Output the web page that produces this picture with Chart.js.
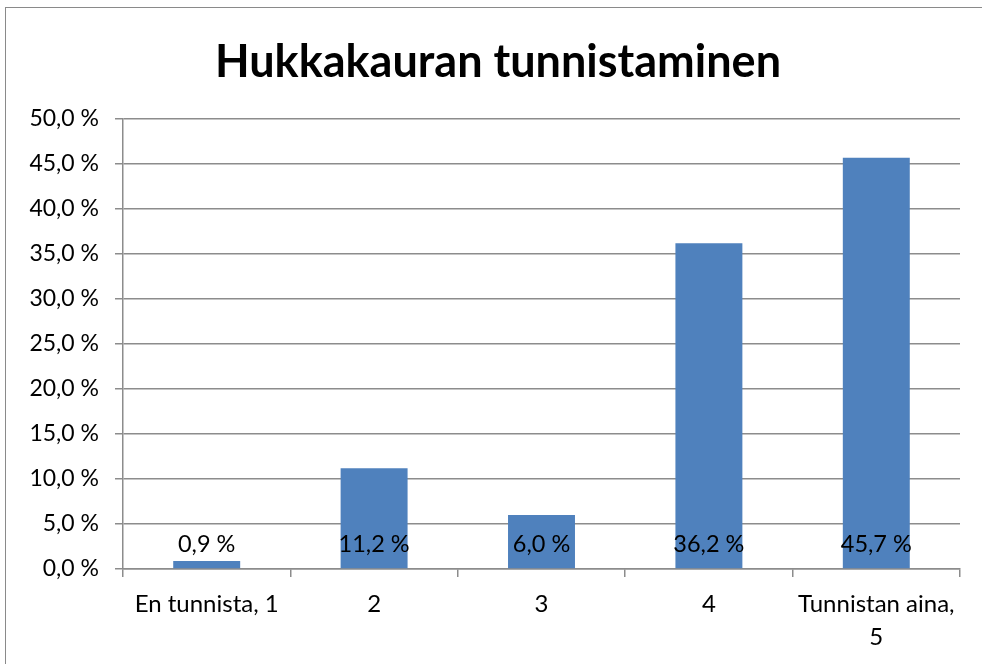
<!DOCTYPE html>
<html>
<head>
<meta charset="utf-8">
<script src="https://cdn.jsdelivr.net/npm/chart.js@4/dist/chart.umd.min.js"></script>
<style>
    html, body { margin: 0; padding: 0; background: #fff; overflow: hidden; width: 982px; height: 664px; }
    #frame {
        position: absolute; left: 5px; top: 7px; width: 977px; height: 657px;
        border-top: 1.5px solid #8a8a8a; border-left: 1.5px solid #8a8a8a;
        box-sizing: border-box;
    }
    #wrap { position: absolute; left: 0; top: 0; width: 982px; height: 664px; }
</style>
</head>
<body>
<div id="frame"></div>
<div id="wrap"><canvas id="chart"></canvas></div>
<script>
// Hukkakauran tunnistaminen - vastausjakauma
const TITLE = 'Hukkakauran tunnistaminen';
const CATEGORIES = ['En tunnista, 1', '2', '3', '4', ['Tunnistan aina,', '5']];
const VALUES = [0.9, 11.2, 6.0, 36.2, 45.7];
const Y_MIN = 0;
const Y_MAX = 50;
const Y_STEP = 5;

const FONT = 'Lato, "Open Sans", sans-serif';
const BAR_COLOR = '#4f81bd';
const GRID_COLOR = '#8c8c8c';

const fmt = v => v.toFixed(1).replace('.', ',') + ' %';

// title centred on the whole frame (not just the plot), as in the original
const frameTitle = {
    id: 'frameTitle',
    afterDraw(chart) {
        const ctx = chart.ctx;
        ctx.save();
        ctx.font = 'bold 45px ' + FONT;
        ctx.fillStyle = '#000';
        ctx.textAlign = 'center';
        ctx.textBaseline = 'middle';
        ctx.fillText(TITLE, 498, 62);
        ctx.restore();
    }
};

// draws the value labels just above the bar base, like the original
const baseLabels = {
    id: 'baseLabels',
    afterDatasetsDraw(chart) {
        const { ctx, scales } = chart;
        const meta = chart.getDatasetMeta(0);
        const y0 = scales.y.getPixelForValue(0);
        ctx.save();
        ctx.font = '23.5px ' + FONT;
        ctx.fillStyle = '#000';
        ctx.textAlign = 'center';
        ctx.textBaseline = 'middle';
        meta.data.forEach((bar, i) => {
            ctx.fillText(fmt(VALUES[i]), bar.x, y0 - 25);
        });
        ctx.restore();
    }
};

new Chart(document.getElementById('chart'), {
    type: 'bar',
    data: {
        labels: CATEGORIES,
        datasets: [{
            data: VALUES,
            backgroundColor: BAR_COLOR,
            borderWidth: 0,
            barPercentage: 0.4,
            categoryPercentage: 1
        }]
    },
    options: {
        responsive: true,
        maintainAspectRatio: false,
        animation: false,
        layout: { padding: { left: 0, right: 22, top: 119, bottom: 0 } },
        plugins: {
            legend: { display: false },
            tooltip: { enabled: false },
            title: { display: false }
        },
        scales: {
            x: {
                offset: true,
                grid: {
                    offset: true,
                    drawOnChartArea: false,
                    drawTicks: true,
                    tickLength: 8,
                    color: GRID_COLOR,
                    lineWidth: 1.5
                },
                border: { color: GRID_COLOR, width: 1.5 },
                ticks: {
                    color: '#000',
                    font: { family: FONT, size: 24, lineHeight: 1.375 },
                    maxRotation: 0,
                    autoSkip: false,
                    padding: 10.5
                },
                afterFit(scale) { scale.height = 95; }
            },
            y: {
                min: Y_MIN,
                max: Y_MAX,
                grid: { color: GRID_COLOR, lineWidth: 1.5, tickLength: 8 },
                border: { color: GRID_COLOR, width: 1.5 },
                ticks: {
                    stepSize: Y_STEP,
                    color: '#000',
                    font: { family: FONT, size: 23 },
                    padding: 16,
                    callback: v => fmt(v)
                },
                afterFit(scale) { scale.width = 123; }
            }
        }
    },
    plugins: [baseLabels, frameTitle]
});
</script>
</body>
</html>
